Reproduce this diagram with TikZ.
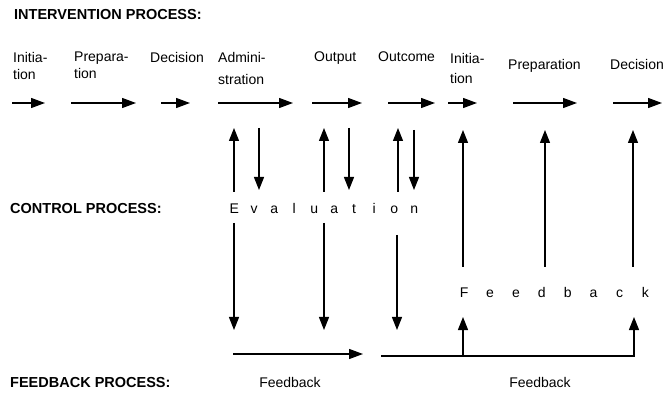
\documentclass[tikz,border=0pt]{standalone}
\usepackage{fontspec}
\setmainfont{Liberation Sans}
\usetikzlibrary{arrows.meta}
\newcommand{\evbox}[1]{\makebox[20pt][c]{#1}}
\newcommand{\fbbox}[1]{\makebox[25.9pt][c]{#1}}
\begin{document}
\begin{tikzpicture}[x=1pt,y=-1pt,
  lab/.style={inner sep=0pt,anchor=north west,align=left,font=\fontsize{14}{17}\selectfont},
  head/.style={inner sep=0pt,anchor=base west,font=\fontsize{14.5}{17}\selectfont\bfseries},
  spaced/.style={inner sep=0pt,anchor=base west,font=\fontsize{14}{17}\selectfont},
  arr/.style={line width=1.2pt,-{Triangle[length=13pt,width=10pt]}},
  harr/.style={line width=1.3pt,-{Triangle[length=14pt,width=10pt]}}]
\useasboundingbox (0,0) rectangle (665,393);
% headings
\node[head] (h1) at (14,20) {INTERVENTION PROCESS:};
\node[head] (h2) at (10,214) {CONTROL PROCESS:};
\node[head] (h3) at (10,388) {FEEDBACK PROCESS:};
% intervention labels
\node[lab] (l1) at (13,52) {Initia-\\tion};
\node[lab] (l2) at (74,52) {Prepara-\\tion};
\node[lab] (l3) at (150,52) {Decision};
\node[lab,font=\fontsize{14}{22}\selectfont] (l4) at (218,52) {Admini-\\stration};
\node[lab] (l5) at (314,52) {Output};
\node[lab] (l6) at (378,52) {Outcome};
\node[lab,font=\fontsize{14}{20}\selectfont] (l7) at (450,53) {Initia-\\tion};
\node[lab] (l8) at (508,59) {Preparation};
\node[lab] (l9) at (610,59) {Decision};
% horizontal intervention arrows
\foreach \i/\s/\e in {1/12/45,2/71/136,3/161/190,4/218/293,5/312/362,6/388/435,7/448/477,8/513/577,9/613/662}{
  \coordinate (hs\i) at (\s,103);
  \coordinate (he\i) at (\e,103);
  \draw[harr] (hs\i) -- (he\i);
}
% evaluation
\node[spaced] (ev) at (224,214) {\evbox{E}\evbox{v}\evbox{a}\evbox{l}\evbox{u}\evbox{a}\evbox{t}\evbox{i}\evbox{o}\evbox{n}};
% up arrows to intervention (evaluation)
\foreach \i/\x in {1/234,2/324,3/398}{
  \coordinate (eus\i) at (\x,192);
  \coordinate (eue\i) at (\x,128);
  \draw[arr] (eus\i) -- (eue\i);
}
% down arrows from intervention (evaluation)
\foreach \i/\x/\t in {1/259/128,2/349/128,3/414/130}{
  \coordinate (eds\i) at (\x,\t);
  \coordinate (ede\i) at (\x,190);
  \draw[arr] (eds\i) -- (ede\i);
}
% down arrows from evaluation to feedback
\foreach \i/\x/\t in {1/234/223,2/324/223,3/397/235}{
  \coordinate (fds\i) at (\x,\t);
  \coordinate (fde\i) at (\x,330);
  \draw[arr] (fds\i) -- (fde\i);
}
% feedback (control)
\node[spaced] (fb) at (451,298) {\fbbox{F}\fbbox{e}\fbbox{e}\fbbox{d}\fbbox{b}\fbbox{a}\fbbox{c}\fbbox{k}};
\foreach \i/\x in {1/463,2/545,3/633}{
  \coordinate (fus\i) at (\x,267);
  \coordinate (fue\i) at (\x,130);
  \draw[arr] (fus\i) -- (fue\i);
}
% feedback process
\coordinate (b1s) at (233,354);
\coordinate (b1e) at (363,354);
\draw[harr] (b1s) -- (b1e);
\coordinate (b2s) at (381,356);
\coordinate (b2m) at (463,356);
\coordinate (b2t) at (463,317);
\coordinate (b2e) at (634,317);
\draw[arr] (b2s) -| (b2e);
\draw[arr] (b2m) -- (b2t);
\node[spaced,anchor=base] (fb1) at (290,388) {Feedback};
\node[spaced,anchor=base] (fb2) at (540,388) {Feedback};
\end{tikzpicture}
\end{document}
